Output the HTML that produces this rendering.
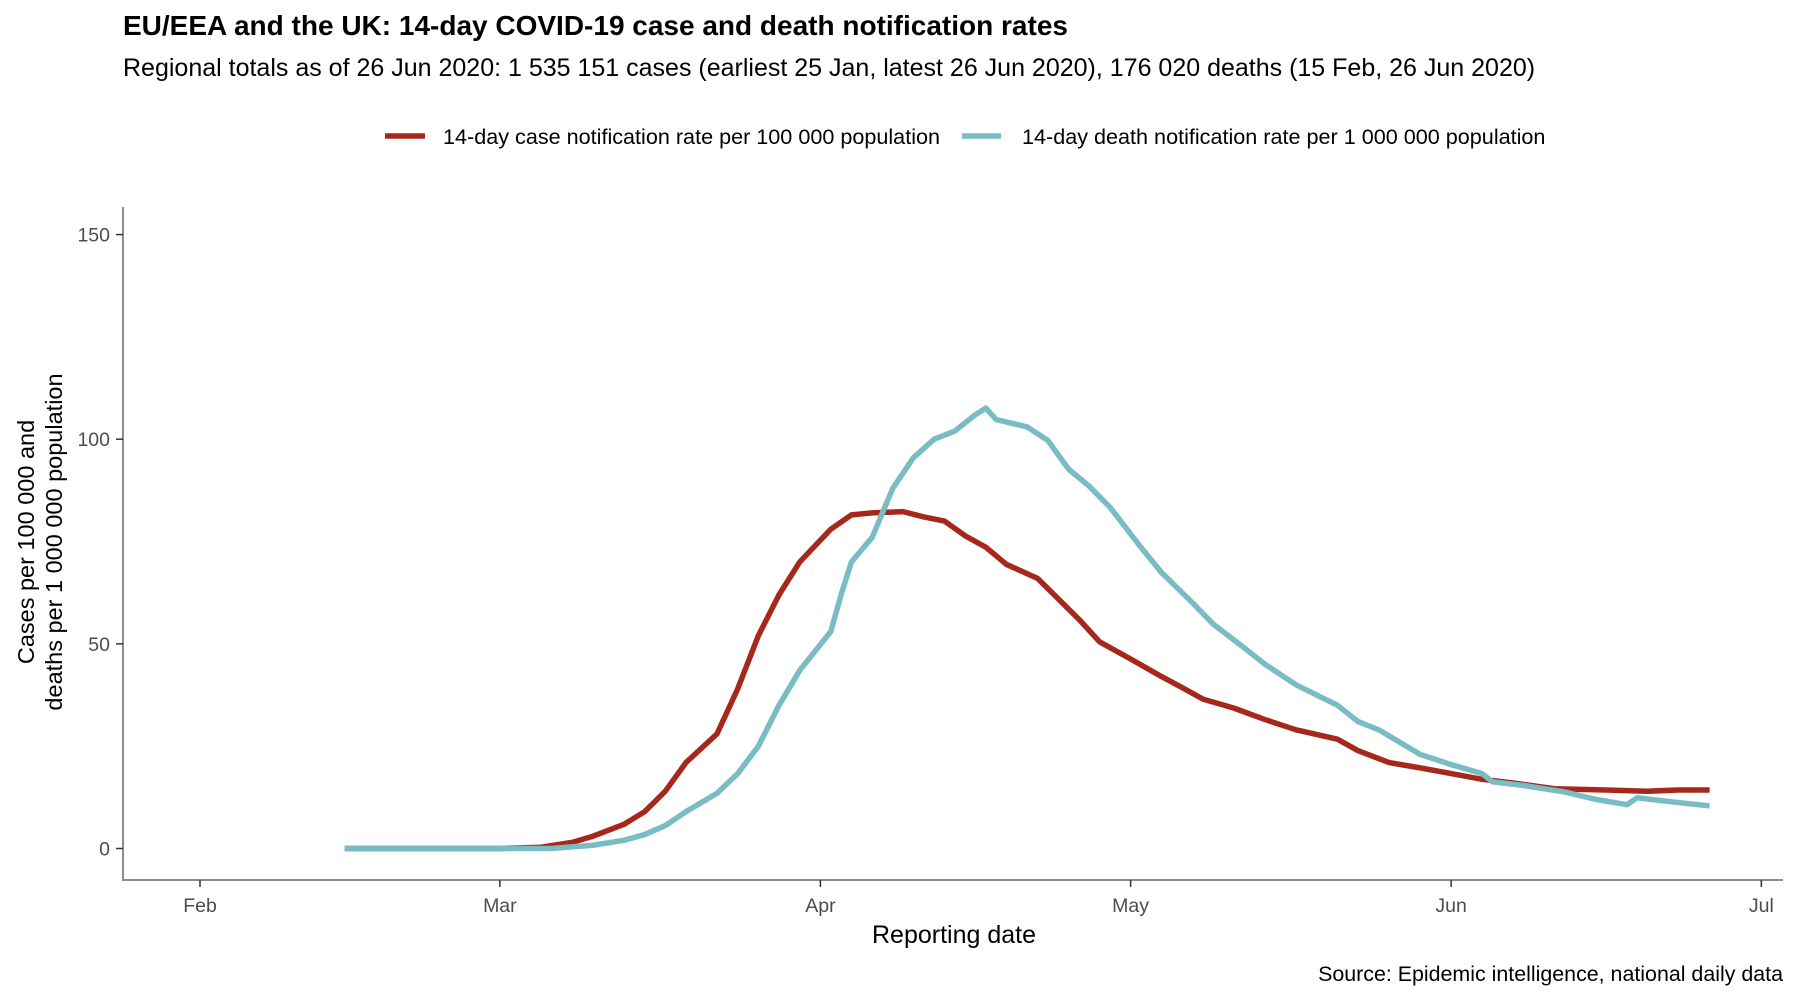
<!DOCTYPE html>
<html><head><meta charset="utf-8">
<style>
body{margin:0;background:#fff;font-family:"Liberation Sans",Arial,sans-serif;}
svg{display:block}
</style></head>
<body>
<svg id="chart" width="1800" height="1000" viewBox="0 0 1800 1000" xmlns="http://www.w3.org/2000/svg">
<text x="123" y="35" font-size="28" font-weight="bold" fill="#000">EU/EEA and the UK: 14-day COVID-19 case and death notification rates</text>
<text x="123" y="76" font-size="25" fill="#000">Regional totals as of 26 Jun 2020: 1 535 151 cases (earliest 25 Jan, latest 26 Jun 2020), 176 020 deaths (15 Feb, 26 Jun 2020)</text>
<g>
<g>
<line x1="385" y1="136" x2="425" y2="136" stroke="#a5281b" stroke-width="5.5"/>
<text x="443" y="144" font-size="21.6" fill="#000">14-day case notification rate per 100 000 population</text>
</g>
<g>
<line x1="962" y1="136" x2="1001" y2="136" stroke="#79bcc4" stroke-width="5.5"/>
<text x="1022" y="144" font-size="21.6" fill="#000">14-day death notification rate per 1 000 000 population</text>
</g>
</g>
<g transform="translate(34,542) rotate(-90)">
<text x="0" y="0" font-size="23.5" text-anchor="middle" fill="#000">Cases per 100 000 and</text>
<text x="0" y="28" font-size="23.5" text-anchor="middle" fill="#000">deaths per 1 000 000 population</text>
</g>
<text x="954" y="943" font-size="25" text-anchor="middle" fill="#000">Reporting date</text>
<text x="1783" y="981" font-size="21.4" text-anchor="end" fill="#000">Source: Epidemic intelligence, national daily data</text>
<g id="axes"></g>
<g id="series"></g>
</svg>
<script>
const xTickLabels = ["Feb","Mar","Apr","May","Jun","Jul"];
const xTickDays = [0,29,60,90,121,151];
const yTicks = [0,50,100,150];
const caseDays = [14,29,33,36,38,41,43,45,47,50,52,54,56,58,61,63,65,68,70,72,74,76,78,81,83,85,87,90,93,95,97,100,103,106,110,112,115,118,121,124,127,131,136,140,143,146];
const caseValues = [0,0,0.3,1.5,3,5.9,9,14,21,28,39,52,62,70,78,81.5,82,82.3,81,80,76.4,73.6,69.4,66,61,56,50.5,46.3,42,39.3,36.5,34.3,31.5,29,26.7,23.9,21,19.7,18.3,16.9,16,14.6,14.3,14,14.3,14.3];
const deathDays = [14,34,38,41,43,45,47,50,52,54,56,58,61,62,63,65,67,69,71,73,75,76,77,80,82,84,86,88,91,93,96,98,101,103,106,110,112,114,116,118,121,124,125,128,132,135,138,139,142,146];
const deathValues = [0,0,0.8,2,3.4,5.6,9,13.5,18.3,25,35,43.5,53,62,70,76,88,95.5,100,102,106,107.6,104.8,103,99.7,92.7,88.5,83.4,73.6,67.4,60,54.8,49,45,40,35,31,29,26,23,20.5,18.3,16.3,15.4,13.8,12,10.7,12.4,11.5,10.4];

const NS="http://www.w3.org/2000/svg";
const X0=200, PXD=10.34, Y0=848.5, PXV=4.093;
const xs=d=>X0+d*PXD, ys=v=>Y0-v*PXV;
const axes=document.getElementById('axes'), series=document.getElementById('series');
function mk(tag,attrs,parent){const e=document.createElementNS(NS,tag);for(const k in attrs)e.setAttribute(k,attrs[k]);parent.appendChild(e);return e;}
const yAxis=mk('line',{x1:123,y1:207,x2:123,y2:880,stroke:'#8c8c8c','stroke-width':2},axes);


const xAxis=mk('line',{x1:122,y1:880,x2:1783,y2:880,stroke:'#8c8c8c','stroke-width':2},axes);


yTicks.forEach(v=>{
  const t=mk('line',{x1:116,y1:ys(v),x2:123,y2:ys(v),stroke:'#333','stroke-width':1.5},axes);
  
  
  const l=mk('text',{x:110,y:ys(v)+7,'font-size':19.5,'text-anchor':'end',fill:'#4d4d4d'},axes);
  l.textContent=v;
  
  
});
xTickDays.forEach((d,i)=>{
  const t=mk('line',{x1:xs(d),y1:880,x2:xs(d),y2:887,stroke:'#333','stroke-width':1.5},axes);
  
  
  const l=mk('text',{x:xs(d),y:912,'font-size':19.5,'text-anchor':'middle',fill:'#4d4d4d'},axes);
  l.textContent=xTickLabels[i];
  
  
});
function line(days,vals,color,name){
  const p=mk('polyline',{points:days.map((d,i)=>xs(d)+','+ys(vals[i])).join(' '),fill:'none',stroke:color,'stroke-width':5.5,'stroke-linejoin':'round'},series);
  
  
}
line(caseDays,caseValues,'#a5281b','case-rate-line');
line(deathDays,deathValues,'#79bcc4','death-rate-line');
</script>
</body></html>
